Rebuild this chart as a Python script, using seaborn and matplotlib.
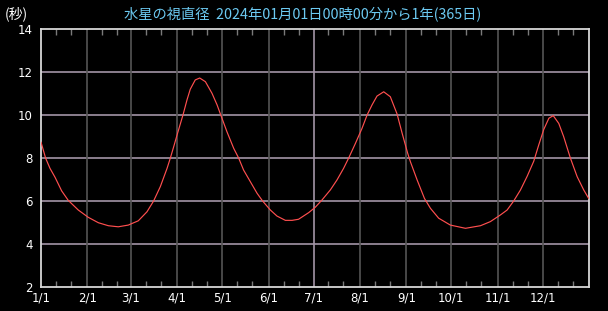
import matplotlib
matplotlib.use("Agg")
import matplotlib.pyplot as plt
import seaborn as sns
import pandas as pd
from matplotlib.ticker import FixedLocator

# Day offset from 2024-01-01 and apparent diameter (arc seconds)
days = [0, 3.1, 6.0, 9.4, 13.8, 18.2, 24.9, 31.6, 38.3, 45, 51.6, 58.3, 65,
        70.8, 75.2, 79.7, 84.2, 86.4, 88.6, 91.5, 94.9, 97.5, 99.7, 103, 106,
        109.8, 114.2, 117.6, 119.8, 124.2, 128.7, 132, 135.3, 139.8, 144.3, 148,
        153.2, 157.6, 163.2, 167.7, 172, 178.8, 183.2, 187.7, 193.3, 197.7,
        202.1, 205.5, 210, 214.4, 217.8, 221.1, 224.4, 228.9, 233.3, 237.8,
        241.2, 244.9, 246.7, 251.2, 256.1, 260.1, 265.6, 273.4, 283.5, 293.5,
        300.1, 306.8, 311.3, 315.7, 320.2, 324.7, 329.1, 332.4, 335.8, 339.2,
        342.1, 345.8, 349.1, 353.6, 358.1, 362.5, 365.8]
diameter = [8.74, 7.99, 7.52, 7.10, 6.47, 6.03, 5.58, 5.24, 4.99, 4.85, 4.80, 4.88, 5.08,
            5.50, 6.0, 6.67, 7.52, 8.0, 8.52, 9.22, 10.02, 10.7, 11.2, 11.63, 11.72,
            11.55, 11.01, 10.47, 10.05, 9.22, 8.45, 8.0, 7.44, 6.9, 6.36, 6.0,
            5.58, 5.30, 5.10, 5.10, 5.15, 5.46, 5.71, 6.05, 6.52, 6.98,
            7.52, 8.0, 8.68, 9.38, 10.0, 10.47, 10.88, 11.08, 10.85, 10.05,
            9.15, 8.22, 7.83, 6.98, 6.12, 5.66, 5.20, 4.88, 4.73, 4.85,
            5.04, 5.35, 5.58, 6.0, 6.51, 7.15, 7.85, 8.6, 9.33, 9.85,
            9.97, 9.61, 8.99, 7.99, 7.13, 6.51, 6.12]

month_starts = [0, 31, 60, 91, 121, 152, 182, 213, 244, 274, 305, 335]
month_labels = ["1/1", "2/1", "3/1", "4/1", "5/1", "6/1", "7/1", "8/1", "9/1",
                "10/1", "11/1", "12/1"]
y_ticks = [2, 4, 6, 8, 10, 12, 14]

title = "水星の視直径  2024年01月01日00時00分から1年(365日)"
unit = "(秒)"

df = pd.DataFrame({"day": days, "diameter": diameter})

sns.set_style("dark")
plt.rcParams['font.family'] = ['Noto Sans CJK JP', 'DejaVu Sans']

fig = plt.figure(figsize=(6.08, 3.11), dpi=100, facecolor="black")
ax = fig.add_axes([41 / 608, 1 - 287 / 311, 548 / 608, 258 / 311])
ax.set_facecolor("black")

# grid lines
for y in y_ticks[1:-1]:
    ax.axhline(y, color="#a394a6", lw=1.2, zorder=1)
for m in month_starts[1:]:
    col = "#a394a6" if m == 182 else "#555555"
    ax.axvline(m, color=col, lw=1.2, zorder=1)

sns.lineplot(data=df, x="day", y="diameter", ax=ax, color="#ff4f4f", lw=0.85,
             zorder=3)

ax.set_xlim(0, 366)
ax.set_ylim(2, 14)
ax.set_xticks(month_starts)
ax.set_xticklabels(month_labels)
ax.set_yticks(y_ticks)
ax.set_yticklabels([str(v) for v in y_ticks])

minor = []
for m in month_starts:
    minor += [m + 10, m + 20]
ax.xaxis.set_minor_locator(FixedLocator(minor))
ax.tick_params(axis="x", which="minor", direction="in", length=4, width=1,
               color="#7a7a7a", top=True, bottom=True)
ax.tick_params(axis="both", which="major", length=0, labelsize=8.5,
               labelcolor="white", pad=3)
ax.tick_params(axis="y", pad=6)
for lab in ax.get_xticklabels() + ax.get_yticklabels():
    lab.set_family(['DejaVu Sans'])

ax.set_xlabel("")
ax.set_ylabel("")
ax.grid(False)
for s in ax.spines.values():
    s.set_color("#d8d8d8")
    s.set_linewidth(1.3)
    s.set_visible(True)

fig.text(303 / 608, 1 - 14 / 311, title, color="#6ccaf2", fontsize=10.3,
         ha="center", va="center")
fig.text(5 / 608, 1 - 14 / 311, unit, color="white", fontsize=10,
         ha="left", va="center")

fig.savefig("out.png", dpi=100, facecolor="black")
